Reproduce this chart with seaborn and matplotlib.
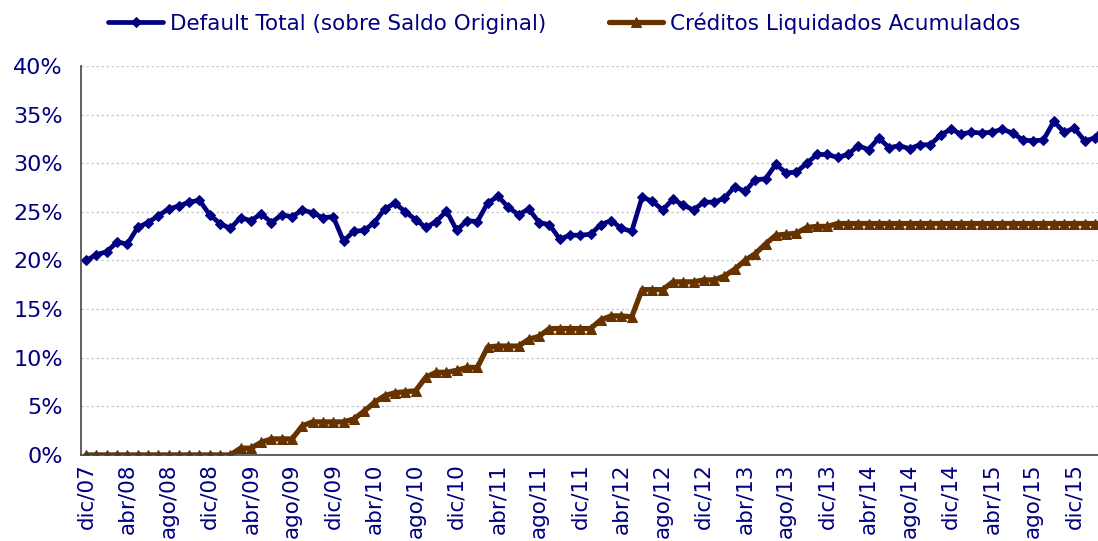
import numpy as np
import pandas as pd
import matplotlib
matplotlib.use("Agg")
import matplotlib.pyplot as plt
from matplotlib.ticker import FixedLocator, FuncFormatter
import seaborn as sns

# Datos mensuales, dic/07 en adelante (%)
meses = ["ene", "feb", "mar", "abr", "may", "jun",
         "jul", "ago", "sep", "oct", "nov", "dic"]

default_total = [
    20.0, 20.6, 20.9, 21.9, 21.7, 23.4, 23.9, 24.6, 25.3, 25.6,
    26.0, 26.2, 24.7, 23.8, 23.3, 24.4, 24.1, 24.8, 23.9, 24.7,
    24.5, 25.2, 24.9, 24.4, 24.5, 22.0, 23.0, 23.1, 23.9, 25.3,
    25.9, 25.0, 24.2, 23.4, 24.0, 25.1, 23.1, 24.1, 24.0, 25.9,
    26.6, 25.5, 24.7, 25.3, 23.9, 23.7, 22.2, 22.6, 22.6, 22.7,
    23.7, 24.1, 23.3, 23.0, 26.5, 26.1, 25.2, 26.3, 25.7, 25.2,
    26.0, 26.0, 26.4, 27.6, 27.1, 28.3, 28.4, 29.9, 29.0, 29.1,
    30.0, 30.9, 30.9, 30.6, 30.9, 31.8, 31.4, 32.6, 31.6, 31.8,
    31.5, 31.9, 31.9, 32.9, 33.5, 33.0, 33.2, 33.1, 33.2, 33.5,
    33.1, 32.4, 32.3, 32.4, 34.3, 33.2, 33.6, 32.3, 32.6, 33.9,
]

liquidados = [
    0.0, 0.0, 0.0, 0.0, 0.0, 0.0, 0.0, 0.0, 0.0, 0.0,
    0.0, 0.0, 0.0, 0.0, 0.0, 0.7, 0.7, 1.3, 1.65, 1.65,
    1.65, 3.0, 3.4, 3.4, 3.4, 3.4, 3.7, 4.5, 5.4, 6.1,
    6.4, 6.5, 6.6, 8.0, 8.5, 8.5, 8.7, 9.0, 9.0, 11.1,
    11.2, 11.2, 11.2, 11.9, 12.2, 13.0, 13.0, 13.0, 13.0, 13.0,
    13.9, 14.3, 14.3, 14.2, 17.0, 17.0, 17.0, 17.8, 17.8, 17.8,
    18.0, 18.0, 18.4, 19.1, 20.0, 20.7, 21.7, 22.6, 22.7, 22.8,
    23.4, 23.5, 23.5, 23.8, 23.8, 23.8, 23.8, 23.8, 23.8, 23.8,
    23.8, 23.8, 23.8, 23.8, 23.8, 23.8, 23.8, 23.8, 23.8, 23.8,
    23.8, 23.8, 23.8, 23.8, 23.8, 23.8, 23.8, 23.8, 23.8, 23.8,
]

# etiquetas del eje: mes/año desde dic/07
etiquetas = []
for k in range(len(default_total)):
    m = (11 + k) % 12
    a = 7 + (11 + k) // 12
    etiquetas.append(f"{meses[m]}/{a:02d}")

df = pd.DataFrame({
    "idx": np.arange(len(default_total)),
    "Default Total (sobre Saldo Original)": default_total,
    "Créditos Liquidados Acumulados": liquidados,
})

azul = "#000080"
marron = "#663300"

sns.set_style("white")
plt.rcParams["font.family"] = ["DejaVu Sans"]

fig = plt.figure(figsize=(10.98, 5.41), dpi=100)
ax = fig.add_axes([0.0738, 0.159, 0.93, 0.719])

sns.lineplot(data=df, x="idx", y="Default Total (sobre Saldo Original)", ax=ax,
             color=azul, linewidth=3.4, marker="D", markersize=5.5,
             markeredgecolor=azul, label="Default Total (sobre Saldo Original)")
sns.lineplot(data=df, x="idx", y="Créditos Liquidados Acumulados", ax=ax,
             color=marron, linewidth=3.8, marker="^", markersize=7,
             markeredgecolor=marron, label="Créditos Liquidados Acumulados")

ax.set_ylim(0, 40)
ax.set_xlim(-0.5, 98.7)
ax.set_yticks(range(0, 41, 5))
ax.yaxis.set_major_formatter(FuncFormatter(lambda v, p: f"{int(v)}%"))
ax.grid(axis="y", color="#c8c8c8", linestyle=(0, (2, 2)), linewidth=0.9)
ax.set_axisbelow(True)

pos = list(range(0, len(etiquetas), 4))
ax.set_xticks(pos)
ax.set_xticklabels([etiquetas[p] for p in pos], rotation=90)
ax.xaxis.set_minor_locator(FixedLocator([p - 0.5 for p in pos]))
ax.tick_params(axis="x", which="major", length=0, pad=6, labelsize=15.5, labelcolor=azul)
ax.tick_params(axis="x", which="minor", length=5, color="#999999", width=1)
ax.tick_params(axis="y", length=4, color="#999999", labelsize=16, labelcolor=azul, pad=9)
ax.set_xlabel("")
ax.set_ylabel("")

for s in ["top", "right"]:
    ax.spines[s].set_visible(False)
for s in ["left", "bottom"]:
    ax.spines[s].set_color("#444444")
    ax.spines[s].set_linewidth(1.2)

leg = ax.legend(loc="center", bbox_to_anchor=(0.514, 0.957),
                bbox_transform=fig.transFigure, ncol=2,
                frameon=False, fontsize=15.5, handlelength=2.55,
                columnspacing=2.9, handletextpad=0.3)
for t in leg.get_texts():
    t.set_color(azul)

fig.savefig("out.png", dpi=100)
